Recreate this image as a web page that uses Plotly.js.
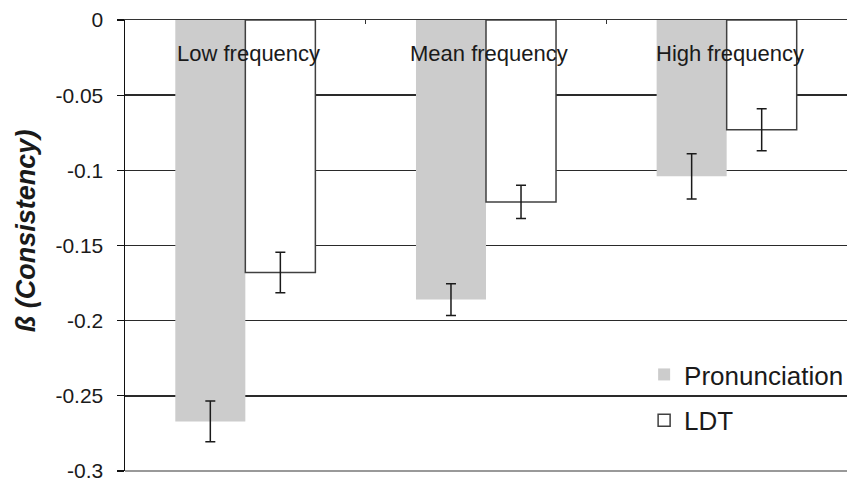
<!DOCTYPE html>
<html>
<head>
<meta charset="utf-8">
<script src="https://cdn.plot.ly/plotly-3.0.1.min.js"></script>
<style>html,body{margin:0;padding:0;background:#fff;}#chart{width:851px;height:484px;}</style>
</head>
<body>
<div id="chart"></div>
<script>
const categories = ["Low frequency", "Mean frequency", "High frequency"];
const seriesNames = ["Pronunciation", "LDT"];
const pronunciation = [-0.267, -0.186, -0.104];
const pronunciationErr = [0.0135, 0.0105, 0.015];
const ldt = [-0.168, -0.121, -0.073];
const ldtErr = [0.0135, 0.011, 0.014];
const yTicks = [0, -0.05, -0.1, -0.15, -0.2, -0.25, -0.3];
const yTickLabels = ["0", "-0.05", "-0.1", "-0.15", "-0.2", "-0.25", "-0.3"];
const yTitle = "ß (Consistency)";

const FONT = "Liberation Sans, Arial, sans-serif";

const traces = [
  {
    type: "bar", name: seriesNames[0], x: categories, y: pronunciation,
    legendgroup: "a",
    marker: {color: "#cccccc", line: {width: 0}},
    error_y: {type: "data", array: pronunciationErr, visible: true, color: "#1a1a1a", thickness: 1.5, width: 5}
  },
  {
    type: "bar", name: seriesNames[1], x: categories, y: ldt,
    legendgroup: "b",
    marker: {color: "#ffffff", line: {width: 1.5, color: "#404040"}},
    error_y: {type: "data", array: ldtErr, visible: true, color: "#1a1a1a", thickness: 1.5, width: 5}
  }
];

const annotations = categories.map(c => ({
  x: c, xref: "x", y: 0, yref: "y", yanchor: "top", yshift: -19, xshift: 3,
  text: c, showarrow: false, font: {family: FONT, size: 22, color: "#1a1a1a"}
}));
annotations.push({
  xref: "paper", yref: "paper", x: -0.137, y: 0.532, xanchor: "center", yanchor: "middle",
  textangle: -90, showarrow: false, text: "<b><i>" + yTitle + "</i></b>",
  font: {family: FONT, size: 27, color: "#1a1a1a"}
});

const layout = {
  width: 851, height: 484,
  margin: {l: 125, r: 4, t: 20, b: 13, autoexpand: false},
  paper_bgcolor: "#fff", plot_bgcolor: "#fff",
  barmode: "group", bargap: 0.418, bargroupgap: 0,
  font: {family: FONT, color: "#1a1a1a"},
  xaxis: {
    side: "top", showline: true, linecolor: "#333", linewidth: 1.5,
    ticks: "inside", tickson: "boundaries", ticklen: 4, tickcolor: "#333",
    showticklabels: false, showgrid: false, zeroline: false, fixedrange: true
  },
  yaxis: {
    range: [-0.3, 0], tickvals: yTicks, ticktext: yTickLabels,
    showline: true, linecolor: "#111", linewidth: 1.5,
    ticks: "outside", ticklen: 7, tickcolor: "#111", tickwidth: 1.2,
    ticklabelstandoff: 9,
    tickfont: {family: FONT, size: 21, color: "#1a1a1a"},
    showgrid: true, gridcolor: "#2a2a2a", gridwidth: 1.4, zeroline: false
  },
  shapes: [
    {type: "line", xref: "paper", yref: "paper", x0: 0, x1: 1, y0: 0, y1: 0, line: {color: "#777", width: 1.5}}
  ],
  showlegend: true,
  legend: {
    x: 0.719, xanchor: "left", y: 0.266, yanchor: "top",
    bgcolor: "rgba(0,0,0,0)", font: {family: FONT, size: 26, color: "#1a1a1a"},
    traceorder: "grouped", tracegroupgap: 9
  },
  annotations: annotations
};

Plotly.newPlot("chart", traces, layout, {displayModeBar: false, staticPlot: true});
</script>
</body>
</html>
